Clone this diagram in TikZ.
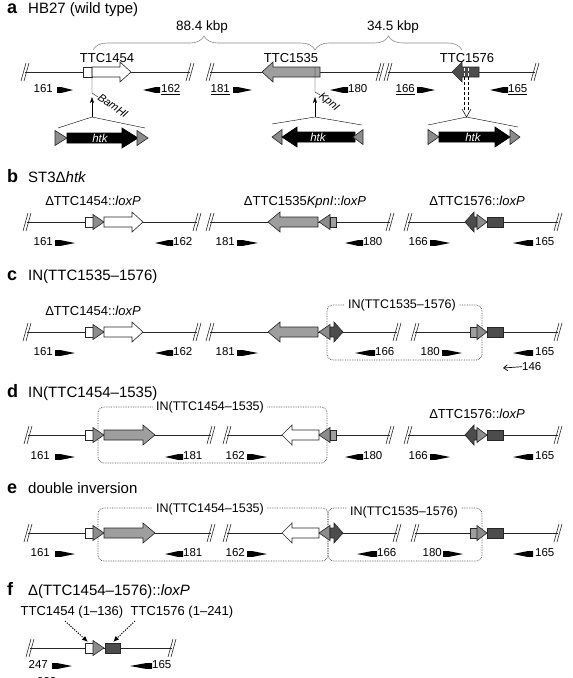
\documentclass[tikz,border=0pt]{standalone}
\usepackage{fontspec}
\setmainfont{Liberation Sans}
\usepackage{tikz}
\usetikzlibrary{arrows.meta,decorations.pathreplacing,positioning}

\definecolor{genegray}{gray}{0.62}
\definecolor{genedark}{gray}{0.30}
\definecolor{loxgray}{gray}{0.55}

% break mark on the chromosome line: x, y
\newcommand{\chrcut}[2]{\draw[cutline] ({#1-4},{#2+9}) -- ({#1+1},{#2-9}) ({#1-1},{#2+9}) -- ({#1+4},{#2-9});}
% primer: tail x, tip x, y
\newcommand{\primerarrow}[3]{\fill ({#1},{#3-2.8}) -- ({#1+0.3*(#2-#1)},{#3-2.8}) -- ({#2},{#3}) -- ({#1+0.3*(#2-#1)},{#3+2.8}) -- ({#1},{#3+2.8}) -- cycle;}
% gene arrow: style, tail x, head base x, tip x, y
\newcommand{\genearrow}[5]{\draw[#1] ({#2},{#5-5}) -- ({#3},{#5-5}) -- ({#3},{#5-10}) -- ({#4},{#5}) -- ({#3},{#5+10}) -- ({#3},{#5+5}) -- ({#2},{#5+5}) -- cycle;}
% gene box: style, x1, x2, y
\newcommand{\genebox}[4]{\draw[#1] ({#2},{#4-5}) rectangle ({#3},{#4+5});}
% loxP site: style, base x, tip x, y
\newcommand{\loxsite}[4]{\draw[#1] ({#2},{#4-7.5}) -- ({#3},{#4}) -- ({#2},{#4+7.5}) -- cycle;}

\begin{document}
\begin{tikzpicture}[x=1pt, y=-1pt,
        every node/.style={inner sep=0pt},
        chrom/.style={draw=black!85, line width=0.7pt},
        cutline/.style={draw=black!85, line width=0.6pt},
        wgene/.style={draw=black!85, fill=white, line width=0.6pt},
        ggene/.style={draw=black!85, fill=genegray, line width=0.6pt},
        dgene/.style={draw=black!85, fill=genedark, line width=0.6pt},
        loxs/.style={draw=black!85, fill=loxgray, line width=0.6pt},
        cassette/.style={draw=black, fill=black, line width=0.6pt},
        inv/.style={draw=black!75, densely dotted, line width=0.7pt, rounded corners=6pt},
        kbrace/.style={draw=black!45, line width=0.6pt, decorate, decoration={brace, amplitude=14pt}},
        sec/.style={font=\fontsize{18}{20}\selectfont\bfseries, anchor=base west},
        head/.style={font=\fontsize{15}{17}\selectfont, anchor=base west},
        lbl/.style={font=\fontsize{13}{15}\selectfont, anchor=base},
        pnum/.style={font=\fontsize{11.5}{13}\selectfont},
        site/.style={font=\fontsize{11}{12}\selectfont\itshape, anchor=west},
        htk/.style={font=\fontsize{11.5}{12}\selectfont\itshape, text=white},
        boxlbl/.style={font=\fontsize{12.5}{14}\selectfont, fill=white, inner xsep=3pt, inner ysep=1pt},
        dotarr/.style={dash pattern=on 1.2pt off 1.3pt, line width=1pt, -{Latex[length=6pt,width=5pt]}}
    ]
    \useasboundingbox (0,0) rectangle (573,678);

    % Section a
    \node[sec] (a-key) at (7,13) {a};
    \node[head] (a-head) at (28,13) {HB27 (wild type)};
    \draw[kbrace] (93,50) -- (315,50);
    \draw[kbrace] (315,50) -- (462,50);
    \node[lbl, font=\fontsize{13.5}{15}\selectfont] (a-d1) at (202,30) {88.4 kbp};
    \node[lbl, font=\fontsize{13.5}{15}\selectfont] (a-d2) at (393,30) {34.5 kbp};
    \draw[chrom] (25,72) -- (190,72) (210,72) -- (380,72) (388,72) -- (535,72);
    \chrcut{25}{72} \chrcut{190}{72} \chrcut{210}{72} \chrcut{380}{72} \chrcut{388}{72} \chrcut{535}{72}
    \genebox{wgene}{83}{92}{72}
    \genearrow{wgene}{92}{120}{131}{72}
    \genearrow{ggene}{320}{273}{262}{72}
    \genearrow{dgene}{479}{462}{452}{72}
    \node[lbl] (a-1454) at (107,62) {TTC1454};
    \node[lbl] (a-1535) at (291,62) {TTC1535};
    \node[lbl] (a-1576) at (467,62) {TTC1576};
    \draw (92,67) -- (92,93) -- (98,97);
    \node[site, rotate=-35] (a-bam) at (99,96) {BamHI};
    \draw (315,67) -- (315,92) -- (320,95);
    \node[site, rotate=-40] (a-kpn) at (320,95) {KpnI};
    \draw[white, densely dashed, line width=0.5pt] (464.5,68) -- (464.5,77) (468.5,68) -- (468.5,77);
    \draw[densely dashed, line width=0.5pt] (464.5,77) -- (464.5,112) (468.5,77) -- (468.5,112);
    \draw[line width=0.5pt] (462,109) -- (466.5,117) -- (471,109);
    % cassettes
    \coordinate (a-top1) at (92,117);
    \coordinate (a-top2) at (315,117);
    \coordinate (a-top3) at (466.5,117);
    \coordinate (a-site1) at (92,97);
    \coordinate (a-site2) at (315,97);
    \draw (58,128) -- (a-top1) -- (145,128);
    \draw (272,124) -- (a-top2) -- (362,125);
    \draw (428,125) -- (a-top3) -- (518,127);
    \draw[-{Stealth[length=6pt,width=4pt]}] (a-top1) -- (a-site1);
    \draw[-{Stealth[length=6pt,width=4pt]}] (a-top2) -- (a-site2);
    \loxsite{loxs}{55}{67}{138}
    \genearrow{cassette}{67}{122}{138}{138}
    \loxsite{loxs}{137}{148}{138}
    \node[htk] (a-htk1) at (100,138) {htk};
    \loxsite{loxs}{282}{272}{137}
    \genearrow{cassette}{355}{297}{282}{137}
    \loxsite{loxs}{363}{353}{137}
    \node[htk] (a-htk2) at (318,137) {htk};
    \loxsite{loxs}{428}{439}{137}
    \genearrow{cassette}{439}{495}{510}{137}
    \loxsite{loxs}{510}{520}{137}
    \node[htk] (a-htk3) at (473,137) {htk};
    % primers
    \node[pnum, anchor=mid east] (a-p161) at (53,90) {161};
    \primerarrow{57}{73}{90}
    \primerarrow{160}{143}{90}
    \node[pnum, anchor=mid west] (a-p162) at (161,90) {\underline{162}};
    \node[pnum, anchor=mid east] (a-p181) at (230,90) {\underline{181}};
    \primerarrow{233}{252}{90}
    \primerarrow{348}{330}{90}
    \node[pnum, anchor=mid west] (a-p180) at (348,90) {180};
    \node[pnum, anchor=mid east] (a-p166) at (415,90) {\underline{166}};
    \primerarrow{417}{435}{90}
    \primerarrow{508}{490}{90}
    \node[pnum, anchor=mid west] (a-p165) at (508,90) {\underline{165}};

    % Section b
    \node[sec] (b-key) at (7,182) {b};
    \node[head] (b-head) at (28,182) {ST3Δ\textit{htk}};
    \draw[chrom] (27,222) -- (197,222) (210,222) -- (390,222) (408,222) -- (558,222);
    \chrcut{27}{222} \chrcut{197}{222} \chrcut{210}{222} \chrcut{390}{222} \chrcut{408}{222} \chrcut{558}{222}
    \genebox{wgene}{85}{93}{222}
    \loxsite{loxs}{93}{104}{222}
    \genearrow{wgene}{104}{132}{143}{222}
    \genearrow{ggene}{318}{280}{268}{222}
    \loxsite{loxs}{330}{319}{222}
    \genebox{ggene}{330}{336}{222}
    \genearrow{dgene}{477}{474}{465}{222}
    \loxsite{loxs}{477}{487}{222}
    \genebox{dgene}{487}{503}{222}
    \node[lbl] (b-1454) at (93,205) {ΔTTC1454::\textit{loxP}};
    \node[lbl] (b-1535) at (305,205) {ΔTTC1535\textit{KpnI}::\textit{loxP}};
    \node[lbl] (b-1576) at (477,205) {ΔTTC1576::\textit{loxP}};
    \node[pnum, anchor=mid east] (b-p161) at (53,243) {161};
    \primerarrow{55}{75}{243}
    \primerarrow{173}{155}{243}
    \node[pnum, anchor=mid west] (b-p162) at (173,243) {162};
    \node[pnum, anchor=mid east] (b-p181) at (235,243) {181};
    \primerarrow{237}{258}{243}
    \primerarrow{363}{345}{243}
    \node[pnum, anchor=mid west] (b-p180) at (363,243) {180};
    \node[pnum, anchor=mid east] (b-p166) at (428,243) {166};
    \primerarrow{430}{450}{243}
    \primerarrow{533}{513}{243}
    \node[pnum, anchor=mid west] (b-p165) at (535,243) {165};

    % Section c
    \node[sec] (c-key) at (7,280) {c};
    \node[head] (c-head) at (28,280) {IN(TTC1535–1576)};
    \draw[inv] (327,305) rectangle (482,360);
    \node[boxlbl] (c-inv) at (402,305) {IN(TTC1535–1576)};
    \draw[chrom] (27,332) -- (197,332) (210,332) -- (397,332) (415,332) -- (558,332);
    \chrcut{27}{332} \chrcut{197}{332} \chrcut{210}{332} \chrcut{397}{332} \chrcut{415}{332} \chrcut{558}{332}
    \genebox{wgene}{85}{93}{332}
    \loxsite{loxs}{93}{104}{332}
    \genearrow{wgene}{104}{132}{143}{332}
    \genearrow{ggene}{318}{280}{268}{332}
    \loxsite{loxs}{330}{319}{332}
    \genearrow{dgene}{330}{334}{343}{332}
    \genebox{ggene}{470}{477}{332}
    \loxsite{loxs}{477}{487}{332}
    \genebox{dgene}{487}{503}{332}
    \node[lbl] (c-1454) at (93,315) {ΔTTC1454::\textit{loxP}};
    \node[pnum, anchor=mid east] (c-p161) at (53,353) {161};
    \primerarrow{55}{75}{353}
    \primerarrow{173}{155}{353}
    \node[pnum, anchor=mid west] (c-p162) at (173,353) {162};
    \node[pnum, anchor=mid east] (c-p181) at (235,353) {181};
    \primerarrow{237}{258}{353}
    \primerarrow{375}{355}{353}
    \node[pnum, anchor=mid west] (c-p166) at (375,353) {166};
    \node[pnum, anchor=mid east] (c-p180) at (440,353) {180};
    \primerarrow{442}{462}{353}
    \primerarrow{533}{513}{353}
    \node[pnum, anchor=mid west] (c-p165) at (535,353) {165};
    \node[pnum, anchor=mid west] (c-p146) at (522,368) {146};
    \coordinate (c-146tip) at (503,368);
    \draw[line width=0.7pt, -{Straight Barb[length=4pt,width=6pt]}] (c-p146.west) -- (c-146tip);

    % Section d
    \node[sec] (d-key) at (7,397) {d};
    \node[head] (d-head) at (28,397) {IN(TTC1454–1535)};
    \draw[inv] (98,407) rectangle (327,463);
    \node[boxlbl] (d-inv) at (210,407) {IN(TTC1454–1535)};
    \draw[chrom] (28,435) -- (211,435) (227,435) -- (390,435) (408,435) -- (558,435);
    \chrcut{28}{435} \chrcut{211}{435} \chrcut{227}{435} \chrcut{390}{435} \chrcut{408}{435} \chrcut{558}{435}
    \genebox{wgene}{85}{93}{435}
    \loxsite{loxs}{93}{104}{435}
    \genearrow{ggene}{104}{143}{155}{435}
    \genearrow{wgene}{319}{292}{282}{435}
    \loxsite{loxs}{330}{319}{435}
    \genebox{ggene}{330}{336}{435}
    \genearrow{dgene}{477}{474}{465}{435}
    \loxsite{loxs}{477}{487}{435}
    \genebox{dgene}{487}{503}{435}
    \node[lbl] (d-1576) at (477,418) {ΔTTC1576::\textit{loxP}};
    \node[pnum, anchor=mid east] (d-p161) at (50,457) {161};
    \primerarrow{55}{75}{457}
    \primerarrow{183}{165}{457}
    \node[pnum, anchor=mid west] (d-p181) at (183,457) {181};
    \node[pnum, anchor=mid east] (d-p162) at (245,457) {162};
    \primerarrow{247}{267}{457}
    \primerarrow{363}{345}{457}
    \node[pnum, anchor=mid west] (d-p180) at (363,457) {180};
    \node[pnum, anchor=mid east] (d-p166) at (428,457) {166};
    \primerarrow{430}{450}{457}
    \primerarrow{533}{513}{457}
    \node[pnum, anchor=mid west] (d-p165) at (535,457) {165};

    % Section e
    \node[sec] (e-key) at (7,493) {e};
    \node[head] (e-head) at (28,493) {double inversion};
    \draw[inv] (98,508) rectangle (328,561);
    \draw[inv] (328,508) rectangle (482,561);
    \node[boxlbl] (e-inv1) at (210,509) {IN(TTC1454–1535)};
    \node[boxlbl] (e-inv2) at (404,512) {IN(TTC1535–1576)};
    \draw[chrom] (28,533) -- (211,533) (227,533) -- (397,533) (415,533) -- (558,533);
    \chrcut{28}{533} \chrcut{211}{533} \chrcut{227}{533} \chrcut{397}{533} \chrcut{415}{533} \chrcut{558}{533}
    \genebox{wgene}{85}{93}{533}
    \loxsite{loxs}{93}{104}{533}
    \genearrow{ggene}{104}{143}{155}{533}
    \genearrow{wgene}{319}{292}{282}{533}
    \loxsite{loxs}{330}{319}{533}
    \genearrow{dgene}{330}{334}{343}{533}
    \genebox{ggene}{470}{477}{533}
    \loxsite{loxs}{477}{487}{533}
    \genebox{dgene}{487}{503}{533}
    \node[pnum, anchor=mid east] (e-p161) at (50,554) {161};
    \primerarrow{55}{75}{554}
    \primerarrow{183}{165}{554}
    \node[pnum, anchor=mid west] (e-p181) at (183,554) {181};
    \node[pnum, anchor=mid east] (e-p162) at (245,554) {162};
    \primerarrow{247}{267}{554}
    \primerarrow{377}{357}{554}
    \node[pnum, anchor=mid west] (e-p166) at (377,554) {166};
    \node[pnum, anchor=mid east] (e-p180) at (442,554) {180};
    \primerarrow{443}{463}{554}
    \primerarrow{533}{513}{554}
    \node[pnum, anchor=mid west] (e-p165) at (535,554) {165};

    % Section f
    \node[sec] (f-key) at (7,595) {f};
    \node[head] (f-head) at (28,595) {Δ(TTC1454–1576)::\textit{loxP}};
    \node[lbl] (f-1454) at (72,615) {TTC1454 (1–136)};
    \node[lbl] (f-1576) at (182,615) {TTC1576 (1–241)};
    \draw[chrom] (30,648) -- (172,648);
    \chrcut{30}{648} \chrcut{172}{648}
    \genebox{wgene}{85}{93}{648}
    \loxsite{loxs}{93}{104}{648}
    \genebox{dgene}{105}{120}{648}
    \coordinate (f-s1) at (65,621);
    \coordinate (f-s2) at (135,621);
    \coordinate (f-t1) at (88,642);
    \coordinate (f-t2) at (113,642);
    \draw[dotarr] (f-s1) -- (f-t1);
    \draw[dotarr] (f-s2) -- (f-t2);
    \node[pnum, anchor=mid east] (f-p247) at (48,666) {247};
    \primerarrow{52}{72}{666}
    \primerarrow{152}{130}{666}
    \node[pnum, anchor=mid west] (f-p165) at (152,666) {165};
    \node[pnum, anchor=base west] (f-p233) at (37,685) {233};
    \primerarrow{67}{87}{681}

\end{tikzpicture}
\end{document}
